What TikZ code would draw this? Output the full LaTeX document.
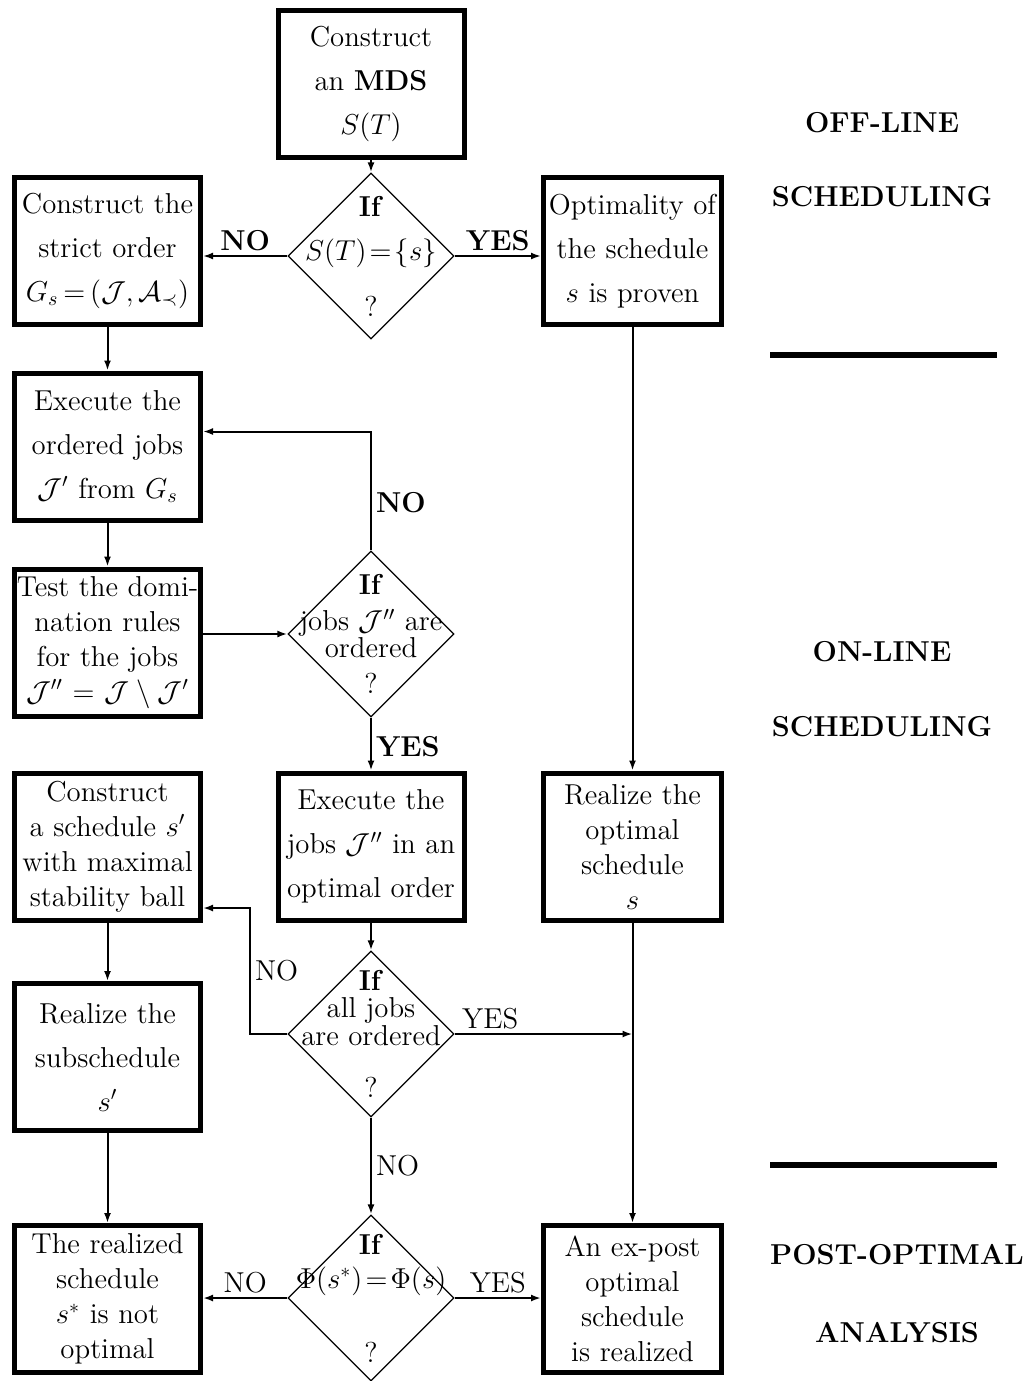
\documentclass[tikz,border=0pt]{standalone}
\usepackage{amsmath}
\usepackage{amssymb}
\usepackage{tikz}
\usetikzlibrary{arrows.meta, positioning, shapes.geometric, calc}

\begin{document}
\begin{tikzpicture}[x=0.5pt, y=-0.5pt,
  box/.style={rectangle, draw, line width=2.5pt, minimum height=73.5pt, text width=93pt, inner xsep=0pt, inner ysep=2pt, align=center, font=\fontsize{14.4}{22}\selectfont},
  boxr/.style={box, text width=89pt},
  tight/.style={font=\fontsize{14.4}{17.5}\selectfont},
  test/.style={diamond, draw, line width=0.6pt, minimum width=83pt, minimum height=83pt, inner sep=0pt},
  testtext/.style={align=center, font=\Large, inner sep=0pt},
  arrow/.style={-{Latex[length=5pt,width=3.5pt]}, line width=1pt},
  ans/.style={font=\Large\bfseries, inner sep=2pt},
  lbl/.style={font=\Large, inner sep=2pt},
  phase/.style={font=\Large\bfseries},
  sepline/.style={line width=3pt}]

\useasboundingbox (0,0) rectangle (1032,1381);

% off-line part
\node[box] (mds) at (371,83.5) {Construct\\ an \textbf{MDS}\\ $S(T)$};
\node[test] (d1) at (371,256) {};
\node[testtext] (d1t) at (d1) {\textbf{If}\\[4pt] $S(T)\!=\!\{s\}$\\[10pt] ?};
\node[box] (order) at (107.5,251) {Construct the\\ strict order\\ $G_s\!=\!(\mathcal{J},\mathcal{A}_{\prec})$};
\node[boxr] (proven) at (632.5,251) {Optimality of\\ the schedule\\ $s$ is proven};

% on-line part
\node[box] (exec1) at (107.5,446.5) {Execute the\\ ordered jobs\\ $\mathcal{J}'$ from $G_s$};
\node[box, tight] (rules) at (107.5,642.5) {\makebox[\linewidth]{Test the domi-}\\ nation rules\\ for the jobs\\ $\mathcal{J}''=\mathcal{J}\setminus\mathcal{J}'$};
\node[test] (d2) at (371,634) {};
\node[testtext] (d2t) at (d2) {\textbf{If}\\ \makebox[0pt]{jobs $\mathcal{J}''$ are}\\[-4.5pt] ordered\\ ?};
\node[box] (exec2) at (371,846.5) {Execute the\\ \makebox[\linewidth]{jobs $\mathcal{J}''$ in an}\\ optimal order};
\node[box, tight] (stab) at (107.5,846.5) {Construct\\ a schedule $s'$\\ with maximal\\ stability ball};
\node[boxr, tight] (real) at (632.5,846.5) {Realize the\\ optimal\\ schedule\\ $s$};
\node[test] (d3) at (371,1034) {};
\node[testtext] (d3t) at (d3) {\textbf{If}\\[-4.5pt] all jobs\\[-4pt] \makebox[0pt]{are ordered}\\[8pt] ?};
\node[box] (sub) at (107.5,1057) {Realize the\\ subschedule\\ $s'$};

% post-optimal part
\node[box, tight] (notopt) at (107.5,1299) {The realized\\ schedule\\ $s^*$ is not\\ optimal};
\node[boxr, tight] (expost) at (632.5,1299) {An ex-post\\ optimal\\ schedule\\ is realized};
\node[test] (d4) at (371,1298) {};
\node[testtext] (d4t) at (d4) {\textbf{If}\\[-1pt] \makebox[0pt]{$\Phi(s^*)\!=\!\Phi(s)$}\\[19pt] ?};

% phases
\node[phase] (off) at (882,123) {OFF-LINE};
\node[phase] (offs) at (882,197) {SCHEDULING};
\node[phase] (on) at (882,652) {ON-LINE};
\node[phase] (ons) at (882,727) {SCHEDULING};
\node[phase] (post) at (897,1255) {POST-OPTIMAL};
\node[phase] (ana) at (897,1333) {ANALYSIS};
\draw[sepline] (770,355) -- (997,355);
\draw[sepline] (770,1165) -- (997,1165);

\coordinate (turn) at (250,908);
\coordinate (join) at (real.south |- d3.east);

\draw[arrow] (mds) -- (d1);
\draw[arrow] (d1.west) -- node[ans, above]{NO} (d1.west -| order.east);
\draw[arrow] (d1.east) -- node[ans, above]{YES} (d1.east -| proven.west);
\draw[arrow] (order) -- (exec1);
\draw[arrow] (exec1) -- (rules);
\draw[arrow] (rules.east |- d2.west) -- (d2.west);
\draw[arrow] (d2.north) |- node[ans, right, pos=0.2]{NO} ([yshift=7.5pt]exec1.east);
\draw[arrow] (d2) -- node[ans, right, pos=0.55]{YES} (exec2);
\draw[arrow] (proven) -- (real);
\draw[arrow] (exec2) -- (d3);
\draw[arrow] (stab) -- (sub);
\draw[arrow] (sub) -- (notopt);
\draw[arrow] (d3.west) -| node[lbl, right, pos=0.75]{NO} (turn) -- (turn -| stab.east);
\draw[arrow] (d3.east) -- node[lbl, above, pos=0.2]{YES} (join);
\draw[arrow] (real) -- (expost);
\draw[arrow] (d3) -- node[lbl, right]{NO} (d4);
\draw[arrow] (d4.west) -- node[lbl, above]{NO} (d4.west -| notopt.east);
\draw[arrow] (d4.east) -- node[lbl, above]{YES} (d4.east -| expost.west);
\end{tikzpicture}
\end{document}
